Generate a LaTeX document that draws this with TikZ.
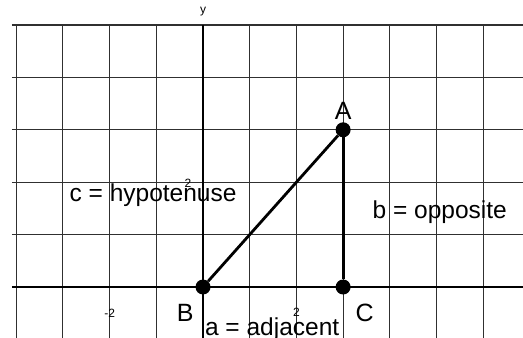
\documentclass[tikz,border=0pt]{standalone}
\usepackage{fontspec}
\setmainfont{Liberation Sans}
\usetikzlibrary{positioning}
\definecolor{gridgrey}{HTML}{303030}
\tikzset{
  gridline/.style={line width=1.1pt, gridgrey},
  axisline/.style={line width=2.6pt, black},
  side/.style={line width=2.8pt, black},
  vertex/.style={circle, fill=black, inner sep=0pt, minimum size=15pt},
  ptlabel/.style={font=\fontsize{25}{30}\selectfont, inner sep=0pt},
  sidelabel/.style={font=\fontsize{24.5}{29}\selectfont, inner sep=0pt},
  ticklabel/.style={font=\fontsize{12}{14}\selectfont, inner sep=0pt},
}
\begin{document}
\begin{tikzpicture}[x=46.7pt, y=52.4pt]
\useasboundingbox (-4.347,-0.973) rectangle (6.852,5.477);
\clip (-4.347,-0.973) rectangle (6.852,5.477);
\fill[white] (-4.347,-0.973) rectangle (6.852,5.477);
% grid
\foreach \i in {-4,...,6}
  \draw[gridline] (\i,5) -- (\i,-1);
\foreach \j in {1,...,5}
  \draw[gridline] (-4.09,\j) -- (6.9,\j);
% axes
\draw[axisline] (-4.09,0) -- (6.9,0);
\draw[axisline] (0,5) -- (0,-1);
\node[ticklabel] (ylab) at (0,5.25) {y};
\node[ticklabel] (xm2) at (-2,-0.5) {-2};
\node[ticklabel] (xp2) at (2,-0.48) {2};
\node[ticklabel] (yp2) at (-0.32,1.98) {2};

% triangle
\node[vertex] (B) at (0,0) {};
\node[vertex] (A) at (3,3) {};
\node[vertex] (C) at (3,0) {};
\draw[side] (B) -- (A);
\draw[side] (A) -- (C);

\node[ptlabel, above=2pt of A] (Alab) {A};
\node[ptlabel] (Blab) at (-0.38,-0.5) {B};
\node[ptlabel] (Clab) at (3.46,-0.5) {C};

\node[sidelabel] (hyp) at (-1.07,1.76) {c = hypotenuse};
\node[sidelabel] (opp) at (5.07,1.43) {b = opposite};
\node[sidelabel, anchor=base west] (adj) at (0.04,-0.92) {a = adjacent};
\end{tikzpicture}
\end{document}
